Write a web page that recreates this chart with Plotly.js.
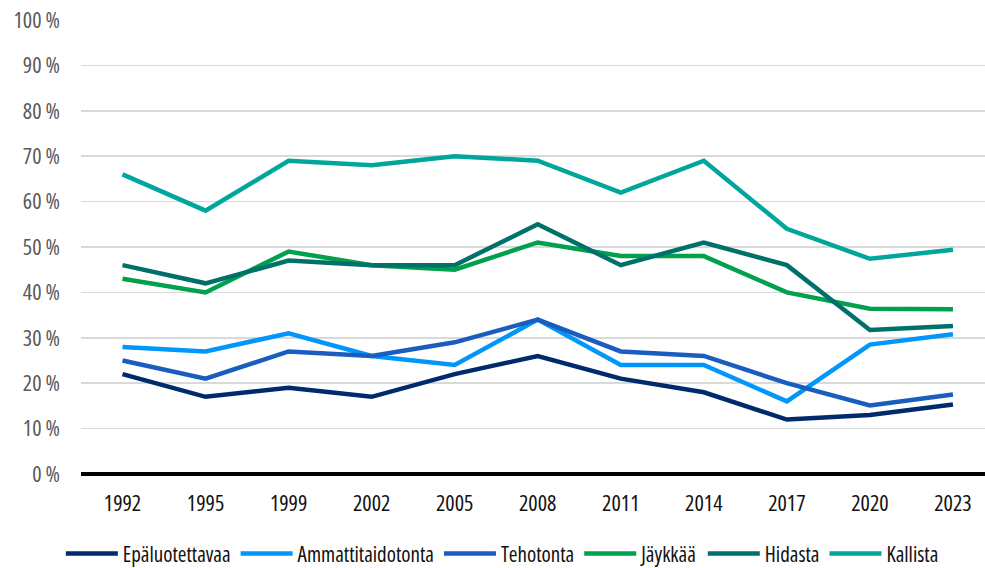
<!DOCTYPE html>
<html>
<head>
<meta charset="utf-8">
<script src="https://cdn.plot.ly/plotly-3.0.1.min.js"></script>
<style>
html,body{margin:0;padding:0;background:#fff;}
#chart{width:985px;height:568px;}
svg text{font-stretch:condensed !important;}
</style>
</head>
<body>
<div id="chart"></div>
<script>
const years = ["1992","1995","1999","2002","2005","2008","2011","2014","2017","2020","2023"];
const seriesNames = ["Epäluotettavaa","Ammattitaidotonta","Tehotonta","Jäykkää","Hidasta","Kallista"];
const epaluotettavaa = [22, 17, 19, 17, 22, 26, 21, 18, 12, 13, 15.3];
const ammattitaidotonta = [28, 27, 31, 26, 24, 34, 24, 24, 16, 28.5, 30.8];
const tehotonta = [25, 21, 27, 26, 29, 34, 27, 26, 20, 15.1, 17.5];
const jaykkaa = [43, 40, 49, 46, 45, 51, 48, 48, 40, 36.4, 36.3];
const hidasta = [46, 42, 47, 46, 46, 55, 46, 51, 46, 31.7, 32.6];
const kallista = [66, 58, 69, 68, 70, 69, 62, 69, 54, 47.4, 49.4];
const yTicks = [0,10,20,30,40,50,60,70,80,90,100];
const yTickLabels = yTicks.map(v => v + " %");

const colors = ["#002a6c","#0096fa","#1b5cbf","#00a04c","#00706a","#00a59b"];
const values = [epaluotettavaa, ammattitaidotonta, tehotonta, jaykkaa, hidasta, kallista];
const FONT = "'Open Sans', sans-serif";

const traces = seriesNames.map((n, i) => ({
  type: "scatter",
  mode: "lines",
  name: n,
  x: years,
  y: values[i],
  line: {color: colors[i], width: 4.5},
  hoverinfo: "x+y+name"
}));

const layout = {
  width: 985, height: 568,
  margin: {l: 81, r: 0, t: 20, b: 94, autoexpand: false},
  paper_bgcolor: "#fff", plot_bgcolor: "#fff",
  font: {family: FONT, size: 21, color: "#222"},
  showlegend: true,
  legend: {
    orientation: "h", x: 0.51, xanchor: "center", xref: "container",
    y: -0.176, yanchor: "middle",
    font: {family: FONT, size: 21, color: "#111"},
    itemwidth: 52, tracegroupgap: 0
  },
  xaxis: {
    type: "category",
    range: [-0.5, 10.386],
    showgrid: false, zeroline: false,
    showline: false,
    ticks: "", ticklen: 0, ticklabelstandoff: 14,
    tickfont: {family: FONT, size: 22, color: "#111"},
    fixedrange: true
  },
  yaxis: {
    range: [0, 100],
    tickvals: yTicks, ticktext: yTickLabels,
    showgrid: true, gridcolor: "#d9d9d9", gridwidth: 1.5,
    zeroline: true, zerolinecolor: "#000", zerolinewidth: 3.5,
    ticks: "", ticklabelstandoff: 20,
    tickfont: {family: FONT, size: 22, color: "#595959"},
    fixedrange: true
  }
};

Plotly.newPlot("chart", traces, layout, {displayModeBar: false, staticPlot: true});
</script>
</body>
</html>
